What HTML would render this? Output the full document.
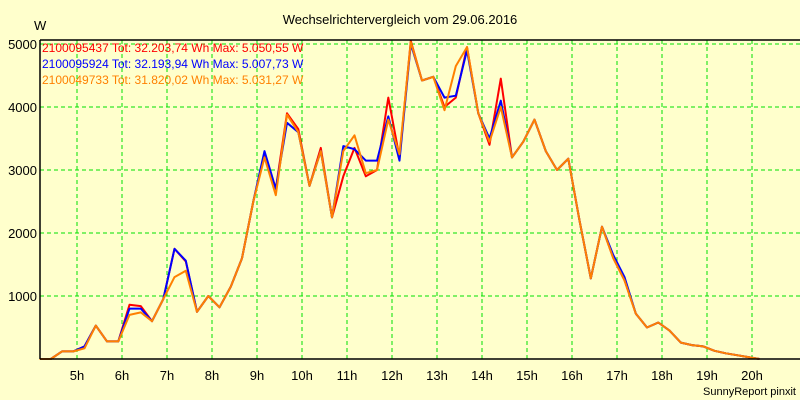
<!DOCTYPE html>
<html><head><meta charset="utf-8"><style>
body{margin:0;background:#ffffcc;}
svg{display:block;font-family:"Liberation Sans",sans-serif;}
</style></head><body>
<svg id="chart" width="800" height="400" xmlns="http://www.w3.org/2000/svg">
<rect x="0" y="0" width="800" height="400" fill="#ffffcc"/>
<text x="400" y="24" text-anchor="middle" font-size="13" fill="#000">Wechselrichtervergleich vom 29.06.2016</text>
<text x="34" y="30" font-size="13" fill="#000">W</text>
<g id="grid"></g>
<g id="series"></g>
<line x1="40" y1="40" x2="800" y2="40" stroke="#000" stroke-width="1.5"/>
<line x1="40" y1="40" x2="40" y2="359" stroke="#000" stroke-width="1.5"/>
<line x1="40" y1="359" x2="800" y2="359" stroke="#000" stroke-width="1.5"/>
<g id="labels"></g>
<g font-size="12">
<text x="42" y="52" fill="#ff0000">2100095437 Tot: 32.203,74 Wh Max: 5.050,55 W</text>
<text x="42" y="68" fill="#0000ff">2100095924 Tot: 32.193,94 Wh Max: 5.007,73 W</text>
<text x="42" y="84" fill="#ff8000">2100049733 Tot: 31.820,02 Wh Max: 5.031,27 W</text>
</g>
<text x="796" y="395" text-anchor="end" font-size="11" fill="#000">SunnyReport pinxit</text>
</svg>
<script>
const hourTicks = [5,6,7,8,9,10,11,12,13,14,15,16,17,18,19,20];
const yTicks = [1000,2000,3000,4000,5000];
const startHour = 4 + 10/60;
const stepHour = 0.25;
const seriesNames = ["2100095437","2100095924","2100049733"];
const red = [0,0,120,120,200,530,280,280,860,840,600,950,1750,1550,750,1000,820,1150,1600,2500,3250,2700,3900,3650,2750,3350,2250,2900,3350,2900,3000,4150,3200,5050,4420,4480,4000,4150,4950,3900,3400,4450,3200,3450,3800,3300,3000,3180,2200,1280,2100,1600,1250,720,500,580,450,260,220,200,130,90,60,30,0];
const blue = [0,0,120,120,200,530,280,280,800,800,600,950,1750,1560,750,1000,820,1150,1600,2500,3300,2700,3750,3600,2750,3300,2250,3380,3330,3150,3150,3850,3150,5000,4420,4480,4150,4180,4900,3900,3500,4100,3200,3450,3800,3300,3000,3180,2200,1280,2100,1650,1300,720,500,580,450,260,220,200,130,90,60,30,0];
const orange = [0,0,120,120,170,530,280,280,700,740,600,950,1300,1400,750,1000,820,1150,1600,2500,3200,2600,3880,3600,2750,3300,2250,3300,3550,2950,3000,3800,3250,5030,4420,4480,3950,4650,4950,3900,3450,4000,3200,3450,3800,3300,3000,3180,2200,1280,2100,1600,1250,720,500,580,450,260,220,200,130,90,60,30,0];

const NS = "http://www.w3.org/2000/svg";
function xOf(h){ return 77 + (h-5)*45; }
function yOf(v){ return 359 - v*0.063; }

const grid = document.getElementById('grid');
hourTicks.forEach(h=>{
  const l = document.createElementNS(NS,'line');
  
  
  l.setAttribute('x1',xOf(h)); l.setAttribute('x2',xOf(h));
  l.setAttribute('y1',40); l.setAttribute('y2',359);
  l.setAttribute('stroke','#00e000'); l.setAttribute('stroke-dasharray','4,3');
  grid.appendChild(l);
});
yTicks.forEach(v=>{
  const l = document.createElementNS(NS,'line');
  
  
  l.setAttribute('x1',40); l.setAttribute('x2',800);
  l.setAttribute('y1',yOf(v)); l.setAttribute('y2',yOf(v));
  l.setAttribute('stroke','#00e000'); l.setAttribute('stroke-dasharray','4,3');
  grid.appendChild(l);
});
const labels = document.getElementById('labels');
hourTicks.forEach(h=>{
  const t = document.createElementNS(NS,'text');
  
  
  t.setAttribute('x',xOf(h)); t.setAttribute('y',380);
  t.setAttribute('text-anchor','middle'); t.setAttribute('font-size','13');
  t.textContent = h + 'h';
  labels.appendChild(t);
});
yTicks.forEach(v=>{
  const t = document.createElementNS(NS,'text');
  
  
  t.setAttribute('x',37); t.setAttribute('y',yOf(v)+5);
  t.setAttribute('text-anchor','end'); t.setAttribute('font-size','13');
  t.textContent = v;
  labels.appendChild(t);
});
const sg = document.getElementById('series');
[[red,'#ff0000'],[blue,'#0000ff'],[orange,'#ff8000']].forEach((s,k)=>{
  const pts = s[0].map((v,i)=> xOf(startHour+i*stepHour).toFixed(1)+','+yOf(v).toFixed(1)).join(' ');
  const p = document.createElementNS(NS,'polyline');
  
  
  p.setAttribute('points',pts);
  p.setAttribute('fill','none'); p.setAttribute('stroke',s[1]);
  p.setAttribute('stroke-width','2'); p.setAttribute('stroke-linejoin','round');
  sg.appendChild(p);
});
</script>
</body></html>
